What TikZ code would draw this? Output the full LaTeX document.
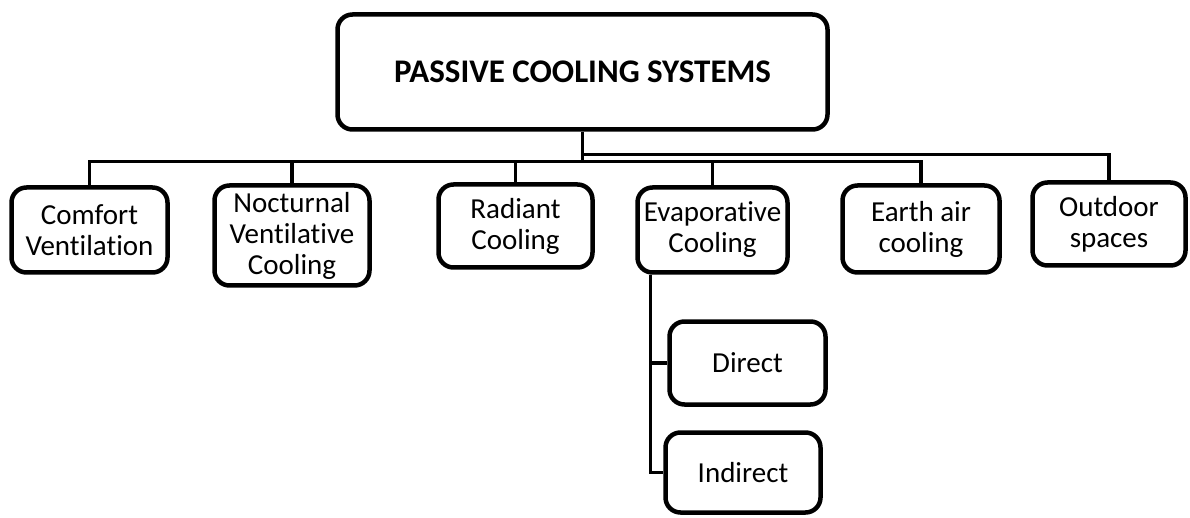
\documentclass[tikz,border=0pt]{standalone}
\usepackage{fontspec}
\setmainfont[Ligatures=NoCommon]{Carlito}
\usetikzlibrary{positioning}

\tikzset{
  box/.style={draw=black, line width=4.5pt, rounded corners=15pt, fill=white,
    align=center, inner sep=0pt, font=\fontsize{29}{31}\selectfont},
  headbox/.style={box, font=\fontsize{33}{35}\selectfont\bfseries},
  conn/.style={draw=black, line width=3.5pt}
}

\begin{document}
\begin{tikzpicture}[x=1pt, y=-1pt]
  \useasboundingbox[fill=white] (0,0) rectangle (1190,518);

  % root
  \node[headbox, minimum width=490pt, minimum height=115pt] (main) at (582.5,72)
    {PASSIVE COOLING SYSTEMS};

  % first level
  \node[box, minimum width=156pt, minimum height=85pt]  (comfort) at (89.5,230)  {Comfort\\Ventilation};
  \node[box, minimum width=155pt, minimum height=100pt] (noct)    at (292,235.5) {Nocturnal\\Ventilative\\Cooling};
  \node[box, minimum width=154pt, minimum height=83pt]  (radiant) at (515.5,226) {Radiant\\Cooling};
  \node[box, minimum width=150pt, minimum height=85pt]  (evap)    at (712.5,230) {Evaporative\\Cooling};
  \node[box, minimum width=157pt, minimum height=87pt]  (earth)   at (921,229)   {Earth air\\cooling};
  \node[box, minimum width=153pt, minimum height=83pt]  (outdoor) at (1109,224)  {Outdoor\\spaces};

  % second level under evaporative cooling
  \node[box, minimum width=156pt, minimum height=83pt] (direct)   at (747.5,363) {Direct};
  \node[box, minimum width=155pt, minimum height=80pt] (indirect) at (743,472.5) {Indirect};

  % trunk and bus lines
  \coordinate (hub)  at ([yshift=-30pt]main.south);
  \coordinate (hubr) at ([yshift=-23pt]main.south);
  \draw[conn] (main.south) -- (hub);
  \draw[conn] (comfort.north) |- (hub);
  \draw[conn] (noct.north)    |- (hub);
  \draw[conn] (radiant.north) |- (hub);
  \draw[conn] (evap.north)    |- (hub);
  \draw[conn] (earth.north)   |- (hub);
  \draw[conn] (outdoor.north) |- (hubr);

  % branch to direct / indirect
  \coordinate (drop) at ([xshift=15pt]evap.south west);
  \draw[conn] (drop) |- (direct.west);
  \draw[conn] (drop) |- (indirect.west);
\end{tikzpicture}
\end{document}
